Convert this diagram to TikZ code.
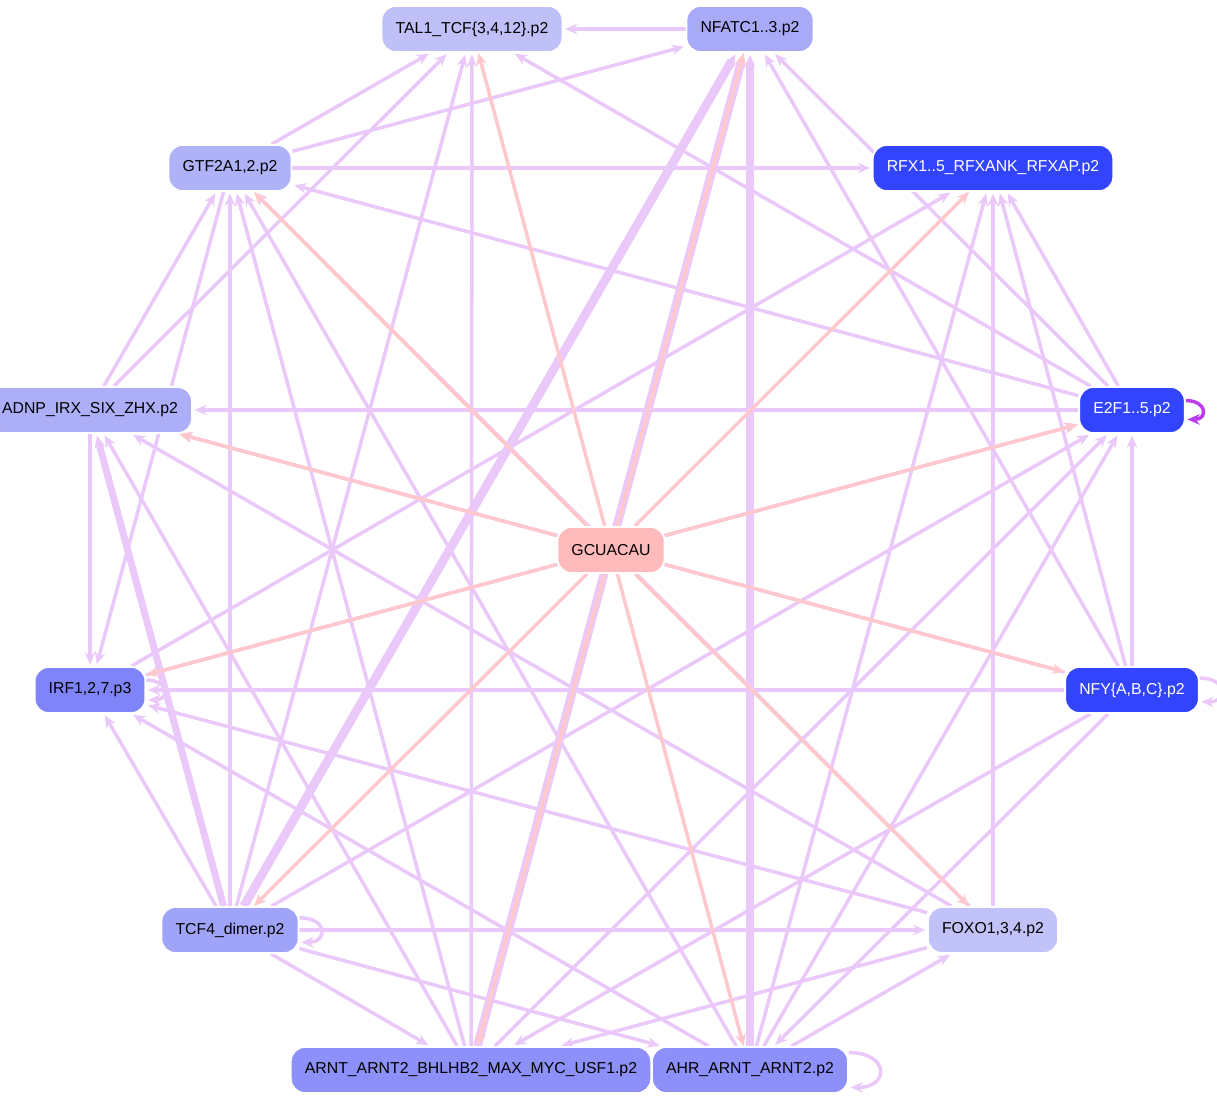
\documentclass[tikz,border=0pt]{standalone}
\usepackage{fontspec}
\setmainfont{Liberation Sans}
\usetikzlibrary{arrows.meta,backgrounds}
\definecolor{dkb}{HTML}{3344FF}
\definecolor{cTal}{RGB}{192,192,248}
\definecolor{cNfa}{RGB}{168,170,248}
\definecolor{cGtf}{RGB}{176,178,248}
\definecolor{cAdn}{RGB}{172,174,248}
\definecolor{cGc}{RGB}{255,187,187}
\definecolor{cIrf}{RGB}{127,132,248}
\definecolor{cTcf}{RGB}{160,164,248}
\definecolor{cFox}{RGB}{192,194,248}
\definecolor{cArn}{RGB}{140,144,248}
\definecolor{cEdge}{RGB}{234,200,250}
\definecolor{cPink}{RGB}{255,200,205}
\definecolor{cLoop}{RGB}{190,60,240}
\begin{document}
\begin{tikzpicture}[x=0.02cm,y=-0.02cm,
 n/.style={rounded corners=8pt,draw=white,line width=1pt,font=\fontsize{9}{10}\selectfont,inner xsep=8pt,minimum height=0.92cm},
 lt/.style={n,fill=#1,text=black},
 dk/.style={n,fill=#1,text=white},
 e/.style={draw=cEdge,line width=2pt,-{Stealth[length=7pt,width=6pt]},shorten >=1pt},
 p/.style={draw=cPink,line width=2pt,-{Stealth[length=7pt,width=6pt]}}]
\useasboundingbox (0,0) rectangle (1217,1101);
\node[lt=cTal] (tal) at (472,29) {TAL1\_TCF\{3,4,12\}.p2};
\node[lt=cNfa] (nfa) at (750,29) {NFATC1..3.p2};
\node[lt=cGtf] (gtf) at (230,168) {GTF2A1,2.p2};
\node[dk=dkb] (rfx) at (993,168) {RFX1..5\_RFXANK\_RFXAP.p2};
\node[lt=cAdn] (adn) at (90,410) {ADNP\_IRX\_SIX\_ZHX.p2};
\node[dk=dkb] (e2f) at (1132,410) {E2F1..5.p2};
\node[lt=cGc] (gc) at (611,550) {GCUACAU};
\node[lt=cIrf] (irf) at (90,690) {IRF1,2,7.p3};
\node[dk=dkb] (nfy) at (1132,690) {NFY\{A,B,C\}.p2};
\node[lt=cTcf] (tcf) at (230,930) {TCF4\_dimer.p2};
\node[lt=cFox] (fox) at (993,930) {FOXO1,3,4.p2};
\node[lt=cArn] (arn) at (471,1070) {ARNT\_ARNT2\_BHLHB2\_MAX\_MYC\_USF1.p2};
\node[lt=cArn] (ahr) at (750,1070) {AHR\_ARNT\_ARNT2.p2};
\begin{scope}[on background layer]
\foreach \s/\t in {nfa/tal,gtf/tal,gtf/nfa,gtf/rfx,adn/tal,adn/gtf,adn/irf,
 e2f/adn,e2f/gtf,e2f/tal,e2f/nfa,e2f/rfx,
 nfy/e2f,nfy/rfx,nfy/nfa,nfy/irf,nfy/adn,nfy/arn,nfy/ahr,
 tcf/gtf,tcf/irf,tcf/tal,tcf/fox,tcf/arn,tcf/ahr,tcf/e2f,
 arn/tal,arn/gtf,arn/adn,arn/e2f,arn/ahr,
 ahr/rfx,ahr/e2f,ahr/irf,ahr/fox,ahr/gtf,
 fox/rfx,fox/adn,fox/irf,fox/gtf,irf/e2f,irf/rfx,gtf/irf,fox/arn}
 \draw[e] (\s) -- (\t);
\draw[e,line width=5pt] (tcf) -- (nfa);
\draw[e,line width=5pt] (arn) -- (nfa);
\draw[e,line width=4pt] (tcf) -- (adn);
\draw[e,line width=4pt] (ahr) -- (nfa);
\draw[e] (ahr) -- (arn);
\foreach \t in {tal,nfa,gtf,rfx,adn,e2f,irf,nfy,tcf,fox,arn,ahr} \draw[p] (gc) -- (\t);
\draw[e,draw=cLoop] (e2f.10) to[out=0,in=0,looseness=3] (e2f.-10);
\draw[e] (nfy.10) to[out=0,in=0,looseness=3] (nfy.-10);
\draw[e] (tcf.10) to[out=0,in=0,looseness=3] (tcf.-10);
\draw[e] (ahr.10) to[out=0,in=0,looseness=3] (ahr.-10);
\draw[e] (irf.10) to[out=0,in=0,looseness=3] (irf.-10);
\end{scope}
\end{tikzpicture}
\end{document}
